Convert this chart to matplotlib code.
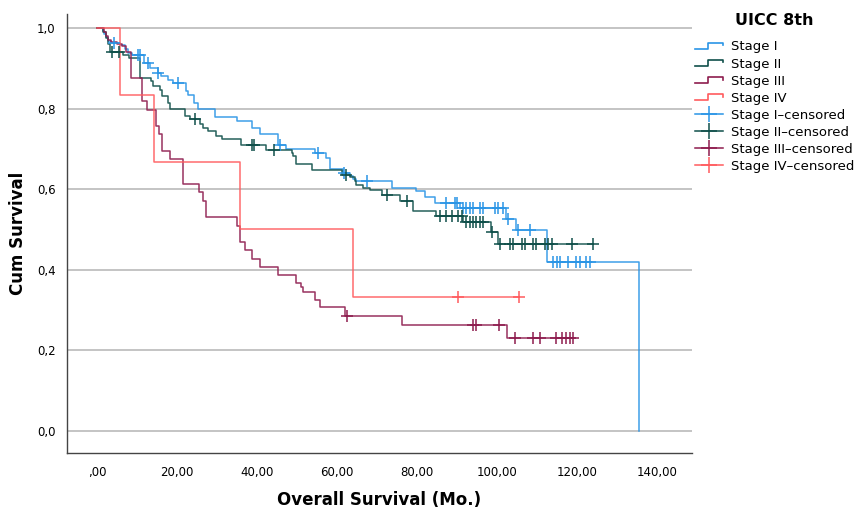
import numpy as np
import matplotlib
matplotlib.use("Agg")
import matplotlib.pyplot as plt
from matplotlib.lines import Line2D
from matplotlib.legend_handler import HandlerBase

# ---- data ----
stage1_t = [0, 1.5, 1.8, 2.3, 2.9, 3.5, 5.8, 7.1, 7.9, 8.75, 11.9, 13.2, 15.25, 16.1, 17.75, 19.0,
            22.3, 22.75, 24.4, 25.25, 29.5, 35.0, 38.7, 40.75, 45.3, 47.2, 54.5, 57.4, 58.25, 61.6,
            63.25, 64.1, 64.9, 73.7, 79.9, 82.0, 84.5, 90.7, 102.2, 104.9, 112.6, 135.5]
stage1_s = [1.0, 0.993, 0.985, 0.977, 0.969, 0.963, 0.957, 0.947, 0.939, 0.934, 0.913, 0.901, 0.889,
            0.880, 0.872, 0.864, 0.843, 0.835, 0.814, 0.800, 0.779, 0.769, 0.752, 0.736, 0.711, 0.700,
            0.691, 0.678, 0.650, 0.641, 0.633, 0.625, 0.620, 0.604, 0.596, 0.580, 0.567, 0.554, 0.527,
            0.498, 0.420, 0.0]
stage1_cens = [4.4, 10.4, 10.8, 12.75, 15.4, 20.25, 45.8, 55.3, 61.8, 67.5, 87.4, 89.5, 90.1,
               91.6, 92.4, 93.25, 94.1, 95.75, 96.6, 99.5, 100.3, 101.6, 102.7, 105.3, 108.25,
               114.0, 115.0, 115.75, 117.8, 119.9, 120.75, 122.4, 123.25]

stage2_t = [0, 1.5, 2.3, 2.9, 3.2, 6.6, 8.0, 10.7, 13.5, 14.1, 15.75, 16.2, 17.8, 18.25, 22.0, 23.25,
            25.75, 26.6, 27.8, 29.9, 31.2, 36.0, 42.4, 48.7, 49.1, 49.9, 53.7, 61.4, 63.25, 64.5, 64.9,
            66.6, 68.25, 71.4, 75.75, 79.1, 84.8, 91.6, 98.5, 100.4]
stage2_s = [1.0, 0.990, 0.975, 0.960, 0.942, 0.934, 0.926, 0.876, 0.868, 0.856, 0.847, 0.831, 0.814,
            0.800, 0.781, 0.775, 0.761, 0.752, 0.744, 0.732, 0.724, 0.711, 0.697, 0.691, 0.682, 0.662,
            0.647, 0.636, 0.630, 0.621, 0.611, 0.604, 0.597, 0.585, 0.571, 0.546, 0.534, 0.519, 0.493,
            0.464]
stage2_cens = [3.9, 5.6, 24.5, 38.7, 39.3, 44.25, 62.2, 72.6, 77.5, 85.75, 87.4, 88.7, 90.3, 91.2,
               92.4, 93.25, 94.1, 94.9, 95.75, 96.6, 98.7, 100.75, 103.25, 104.1, 106.2, 107.0,
               109.1, 109.9, 112.0, 112.8, 113.7, 118.7, 124.1]

stage3_t = [0, 1.8, 2.3, 2.9, 3.5, 5.0, 6.2, 7.4, 8.5, 11.2, 12.6, 14.9, 15.6, 16.2, 18.25, 21.6,
            25.6, 26.5, 27.4, 35.1, 35.75, 37.0, 38.7, 40.75, 45.3, 49.9, 51.0, 51.6, 54.5, 55.75,
            62.0, 76.2, 102.6]
stage3_s = [1.0, 0.99, 0.98, 0.97, 0.965, 0.96, 0.955, 0.942, 0.876, 0.819, 0.796, 0.757, 0.736,
            0.695, 0.674, 0.612, 0.592, 0.571, 0.530, 0.509, 0.470, 0.450, 0.427, 0.408, 0.387,
            0.367, 0.357, 0.344, 0.326, 0.307, 0.286, 0.263, 0.230]
stage3_cens = [62.5, 94.1, 94.9, 100.6, 104.5, 109.1, 110.75, 114.75, 116.4, 117.4, 118.4, 119.0]

stage4_t = [0, 5.9, 14.3, 35.9, 64.0]
stage4_s = [1.0, 0.833, 0.667, 0.5, 0.333]
stage4_cens = [90.3, 105.5]

labels = ["Stage I", "Stage II", "Stage III", "Stage IV"]
colors = ["#2a95e6", "#0f4f4a", "#8e1c4e", "#ff5b5e"]

xticks = [0, 20, 40, 60, 80, 100, 120, 140]
xticklabels = [",00", "20,00", "40,00", "60,00", "80,00", "100,00", "120,00", "140,00"]
yticks = [0.0, 0.2, 0.4, 0.6, 0.8, 1.0]
yticklabels = ["0,0", "0,2", "0,4", "0,6", "0,8", "1,0"]


class HandlerStep(HandlerBase):
    # little step glyph like the SPSS legend
    def create_artists(self, legend, orig_handle, xdescent, ydescent, width, height, fontsize, trans):
        x0, y0 = -xdescent, -ydescent
        xs = [x0, x0 + 0.45 * width, x0 + 0.45 * width, x0 + width, x0 + width]
        ys = [y0 + 0.15 * height, y0 + 0.15 * height, y0 + 0.85 * height, y0 + 0.85 * height,
              y0 + 0.55 * height]
        ln = Line2D(xs, ys, color=orig_handle.get_color(), lw=1.2, transform=trans)
        return [ln]


fig = plt.figure(figsize=(8.57, 5.11), dpi=100)
# axes box: x 67..692 px, y 14..453 px
ax = fig.add_axes([0.078, 0.1135, 0.7295, 0.859])

curves = [(stage1_t, stage1_s, stage1_cens), (stage2_t, stage2_s, stage2_cens),
          (stage3_t, stage3_s, stage3_cens), (stage4_t, stage4_s, stage4_cens)]

step_handles = []
cens_handles = []
for (t, s, c), lab, col in zip(curves, labels, colors):
    t = list(t)
    s = list(s)
    if c and max(c) > t[-1] and s[-1] > 0:
        t.append(max(c))
        s.append(s[-1])
    ax.step(t, s, where="post", color=col, lw=1.1, alpha=0.9, zorder=3)
    idx = np.searchsorted(t, c, side="right") - 1
    cy = np.array(s)[idx]
    ax.plot(c, cy, ls="none", marker="+", ms=8, mew=1.1, color=col, zorder=4)
    step_handles.append(Line2D([], [], color=col))
    cens_handles.append(Line2D([], [], color=col, marker="+", ms=11, mew=1.1, lw=1.1))

ax.set_xlim(-7.5, 148.8)
ax.set_ylim(-0.055, 1.035)
ax.set_xticks(xticks)
ax.set_xticklabels(xticklabels, fontsize=8.5)
ax.set_yticks(yticks)
ax.set_yticklabels(yticklabels, fontsize=8.5)
ax.tick_params(length=0, pad=8)
ax.tick_params(axis="x", pad=9)
ax.yaxis.grid(True, color="#b4b4b4", lw=1.1)
ax.set_axisbelow(True)
for sp in ["top", "right"]:
    ax.spines[sp].set_visible(False)
for sp in ["left", "bottom"]:
    ax.spines[sp].set_color("#444444")
    ax.spines[sp].set_linewidth(1.0)

ax.set_xlabel("Overall Survival (Mo.)", fontsize=12, fontweight="bold", labelpad=9)
ax.set_ylabel("Cum Survival", fontsize=12, fontweight="bold", labelpad=7)

handles = step_handles + cens_handles
names = labels + [l + "\u2013censored" for l in labels]
hmap = {h: HandlerStep() for h in step_handles}
leg = fig.legend(handles, names, handler_map=hmap, loc="upper left",
                 bbox_to_anchor=(0.805, 0.985), frameon=False, fontsize=9.5,
                 title="UICC 8th", title_fontproperties={"weight": "bold", "size": 11.5},
                 handlelength=2.1, handletextpad=0.6, labelspacing=0.31, borderaxespad=0)
leg._legend_box.sep = 9

fig.savefig("out.png", dpi=100)
